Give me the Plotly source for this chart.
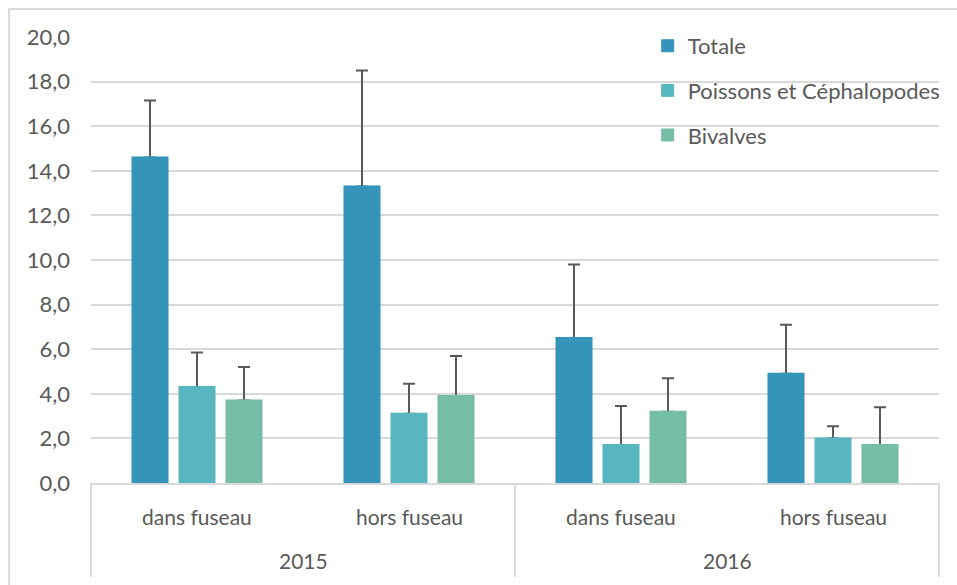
import plotly.graph_objects as go

# Categories (two-level x axis)
years = ["2015", "2015", "2016", "2016"]
zones = ["dans fuseau", "hors fuseau", "dans fuseau", "hors fuseau"]

# Series values and upper error extent
totale = [14.6, 13.3, 6.5, 4.9]
totale_err = [2.55, 5.2, 3.3, 2.2]
poissons = [4.3, 3.1, 1.7, 2.0]
poissons_err = [1.55, 1.35, 1.75, 0.55]
bivalves = [3.7, 3.9, 3.2, 1.7]
bivalves_err = [1.5, 1.8, 1.5, 1.7]

y_ticks = [0, 2, 4, 6, 8, 10, 12, 14, 16, 18, 20]
y_tick_text = [f"{v:.1f}".replace(".", ",") for v in y_ticks]

series = [
    ("Totale", totale, totale_err, "#3494BA"),
    ("Poissons et Céphalopodes", poissons, poissons_err, "#58B6C0"),
    ("Bivalves", bivalves, bivalves_err, "#75BDA7"),
]

FONT = "Lato"
GREY = "#595959"
LINE = "#D9D9D9"

fig = go.Figure()
# bars with their upper error bars
for i, (name, vals, err, color) in enumerate(series):
    fig.add_trace(go.Bar(
        name=name,
        x=[years, zones],
        y=vals,
        offsetgroup=f"g{i}",
        legendgroup=f"g{i}",
        marker=dict(color=color, line=dict(color=color, width=1)),
        error_y=dict(type="data", symmetric=False, array=err, arrayminus=[0] * len(err),
                     color=GREY, thickness=2, width=6),
    ))
# same bars drawn again on top so the error bars start cleanly at the bar top
for i, (name, vals, err, color) in enumerate(series):
    fig.add_trace(go.Bar(
        name=name,
        x=[years, zones],
        y=vals,
        offsetgroup=f"g{i}",
        legendgroup=f"g{i}",
        showlegend=False,
        hoverinfo="skip",
        marker=dict(color=color, line=dict(color=color, width=2)),
    ))

# two-level category labels and group dividers
n_cat = len(zones)
annotations = []
for i, z in enumerate(zones):
    annotations.append(dict(text=z, xref="paper", yref="paper", x=(i + 0.5) / n_cat,
                            y=-0.074, xanchor="center", yanchor="middle", showarrow=False,
                            font=dict(family=FONT, size=21, color=GREY)))
year_list = list(dict.fromkeys(years))
n_year = len(year_list)
for j, yr in enumerate(year_list):
    annotations.append(dict(text=yr, xref="paper", yref="paper", x=(j + 0.5) / n_year,
                            y=-0.173, xanchor="center", yanchor="middle", showarrow=False,
                            font=dict(family=FONT, size=21, color=GREY)))

shapes = [dict(type="line", xref="paper", yref="paper", x0=k / n_year, x1=k / n_year,
               y0=0, y1=-0.211, line=dict(color=LINE, width=2))
          for k in range(n_year + 1)]
shapes.append(dict(type="rect", xref="paper", yref="paper", x0=-0.0965, x1=1.05,
                   y0=-0.3, y1=1.0628, line=dict(color=LINE, width=2),
                   fillcolor="rgba(0,0,0,0)", layer="below"))

fig.update_layout(
    width=957, height=585,
    margin=dict(l=91, r=16, t=37, b=102),
    paper_bgcolor="white", plot_bgcolor="white",
    font=dict(family=FONT, size=22, color=GREY),
    barmode="group", bargap=0.335, bargroupgap=0.255,
    showlegend=True,
    legend=dict(x=0.6565, y=1.027, xanchor="left", yanchor="top",
                bgcolor="rgba(255,255,255,0)", traceorder="grouped",
                tracegroupgap=13, font=dict(family=FONT, size=22, color=GREY)),
    xaxis=dict(type="multicategory", showline=True, linecolor=LINE, linewidth=2,
               showdividers=False, showticklabels=False, showgrid=False, ticks=""),
    yaxis=dict(range=[0, 20], tickvals=y_ticks, ticktext=y_tick_text,
               showgrid=True, gridcolor=LINE, gridwidth=2, zeroline=False,
               ticks="", ticklabelstandoff=20,
               tickfont=dict(family=FONT, size=22, color=GREY)),
    annotations=annotations,
    shapes=shapes,
)

fig.write_html("out.html")
